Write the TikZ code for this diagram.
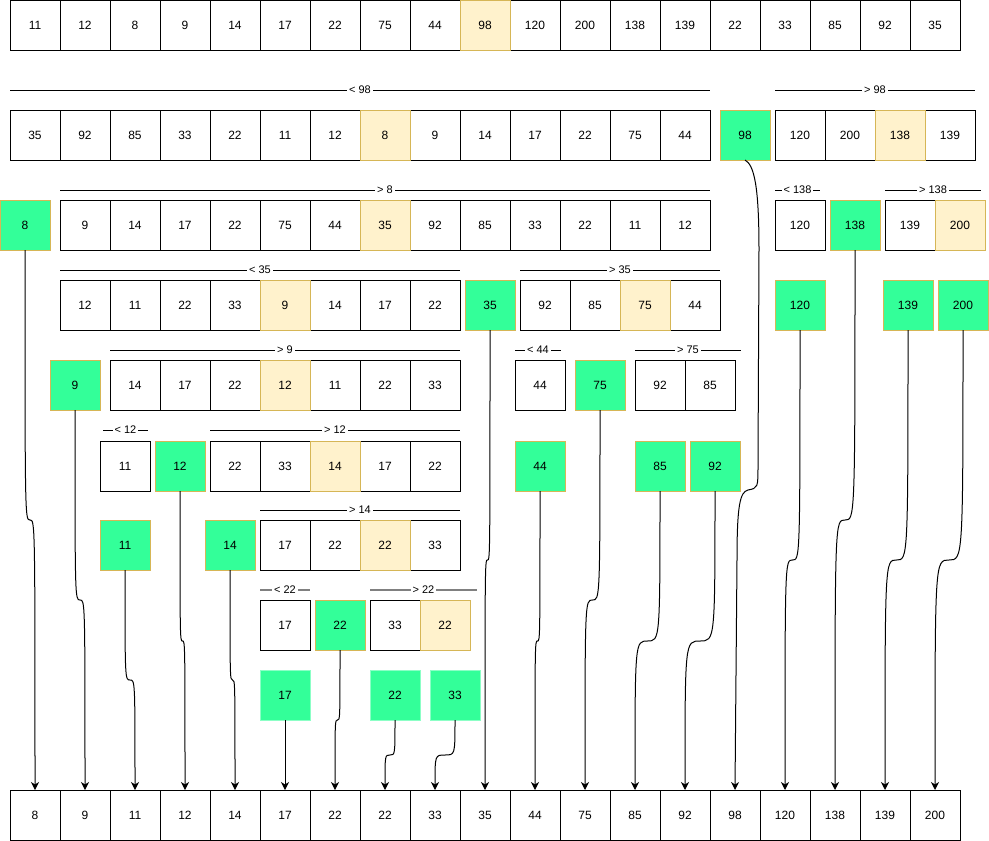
\documentclass[tikz,border=0pt]{standalone}
\usepackage{fontspec}
\setmainfont{Liberation Sans}
\usetikzlibrary{arrows.meta}
\definecolor{gfill}{HTML}{33FF99}
\definecolor{yfill}{HTML}{FFF2CC}
\definecolor{ybord}{HTML}{D6B656}
\definecolor{lgbord}{HTML}{8CFFC6}
\newcommand\sortedge[5]{%
  \pgfmathsetmacro\jx{(#3+#4)/2}%
  \draw[edge] (#1.south) .. controls (#3,#5) .. (\jx,#5) .. controls (#4,#5) .. (#2.north);}
\begin{document}
\begin{tikzpicture}[x=1pt,y=-1pt,
  cell/.style={draw=black,line width=1pt,minimum size=50pt,inner sep=0pt,outer sep=0pt,font=\fontsize{12}{14}\selectfont},
  piv/.style={cell,draw=ybord,fill=yfill},
  done/.style={cell,draw=ybord,fill=gfill},
  leaf/.style={cell,draw=lgbord,fill=gfill},
  rng/.style={line width=1pt},
  rnggray/.style={line width=1.6pt,draw=gray},
  lbl/.style={fill=white,inner sep=2pt,font=\fontsize{11}{13}\selectfont},
  edge/.style={line width=1pt,-{Stealth[length=8pt,width=8pt,inset=2.5pt]}}]
\useasboundingbox (0,0) rectangle (989,841);
\fill[white] (0,0) rectangle (989,841);

% row 0
\foreach \v/\s [count=\i from 0] in {11/cell,12/cell,8/cell,9/cell,14/cell,17/cell,22/cell,75/cell,44/cell,120/cell,200/cell,138/cell,139/cell,22/cell,33/cell,85/cell,92/cell,35/cell}
  {\ifnum\i<9 \node[\s] (t-\i) at ({35+50*\i},25) {\v};\else \node[\s] (t-\i) at ({35+50*(\i+1)},25) {\v};\fi}
\node[piv] (t-p) at (485,25) {98};

% row 1
\draw[rng] (10,90) -- node[lbl]{< 98} (710,90);
\draw[rng] (775,90) -- node[lbl]{> 98} (975,90);
\foreach \v/\s [count=\i from 0] in {35/cell,92/cell,85/cell,33/cell,22/cell,11/cell,12/cell,8/piv,9/cell,14/cell,17/cell,22/cell,75/cell,44/cell}
  \node[\s] (a-\i) at ({35+50*\i},135) {\v};
\node[piv] (a-7) at (385,135) {8};
\node[done] (g98) at (745,135) {98};
\foreach \v/\s [count=\i from 0] in {120/cell,200/cell,138/piv,139/cell}
  \node[\s] (ar-\i) at ({800+50*\i},135) {\v};
\node[piv] (ar-2) at (900,135) {138};

% row 2
\draw[rng] (60,190) -- node[lbl]{> 8} (710,190);
\draw[rng] (775,190) -- node[lbl]{< 138} (820,190);
\draw[rng] (885,190) -- node[lbl]{> 138} (981,190);
\node[done] (g8) at (25,225) {8};
\foreach \v/\s [count=\i from 0] in {9/cell,14/cell,17/cell,22/cell,75/cell,44/cell,35/piv,92/cell,85/cell,33/cell,22/cell,11/cell,12/cell}
  \node[\s] (c-\i) at ({85+50*\i},225) {\v};
\node[piv] (c-6) at (385,225) {35};
\node[cell] (c2-0) at (800,225) {120};
\node[done] (g138) at (855,225) {138};
\node[cell] (c2-1) at (910,225) {139};
\node[piv] (c2-2) at (960,225) {200};

% row 3
\draw[rng] (60,270) -- node[lbl]{< 35} (460,270);
\draw[rng] (520,270) -- node[lbl]{> 35} (720,270);
\foreach \v/\s [count=\i from 0] in {12/cell,11/cell,22/cell,33/cell,9/piv,14/cell,17/cell,22/cell}
  \node[\s] (d-\i) at ({85+50*\i},305) {\v};
\node[piv] (d-4) at (285,305) {9};
\node[done] (g35) at (490,305) {35};
\foreach \v/\s [count=\i from 0] in {92/cell,85/cell,75/piv,44/cell}
  \node[\s] (d2-\i) at ({545+50*\i},305) {\v};
\node[piv] (d2-2) at (645,305) {75};
\node[done] (g120) at (800,305) {120};
\node[done] (g139) at (908,305) {139};
\node[done] (g200) at (963,305) {200};

% row 4
\draw[rng] (110,350) -- node[lbl]{> 9} (460,350);
\draw[rng] (515,350) -- node[lbl]{< 44} (561,350);
\draw[rng] (635,350) -- node[lbl]{> 75} (741,350);
\node[done] (g9) at (75,385) {9};
\foreach \v/\s [count=\i from 0] in {14/cell,17/cell,22/cell,12/piv,11/cell,22/cell,33/cell}
  \node[\s] (e-\i) at ({135+50*\i},385) {\v};
\node[piv] (e-3) at (285,385) {12};
\node[cell] (e2-0) at (540,385) {44};
\node[done] (g75) at (600,385) {75};
\node[cell] (e2-1) at (660,385) {92};
\node[cell] (e2-2) at (710,385) {85};

% row 5
\draw[rng] (103,430) -- node[lbl]{< 12} (148,430);
\draw[rng] (210,430) -- node[lbl]{> 12} (460,430);
\node[cell] (f-0) at (125,466) {11};
\node[done] (g12) at (180,466) {12};
\foreach \v/\s [count=\i from 1] in {22/cell,33/cell,14/piv,17/cell,22/cell}
  \node[\s] (f-\i) at ({185+50*\i},466) {\v};
\node[piv] (f-3) at (335,466) {14};
\node[done] (g44) at (540,466) {44};
\node[done] (g85) at (660,466) {85};
\node[done] (g92) at (715,466) {92};

% row 6
\draw[rng] (260,510) -- node[lbl]{> 14} (460,510);
\node[done] (g11) at (125,545) {11};
\node[done] (g14) at (230,545) {14};
\foreach \v/\s [count=\i from 0] in {17/cell,22/cell,22/piv,33/cell}
  \node[\s] (h-\i) at ({285+50*\i},545) {\v};
\node[piv] (h-2) at (385,545) {22};

% row 7
\draw[rnggray] (260,590) -- node[lbl]{< 22} (310,590);
\draw[rnggray] (370,590) -- node[lbl]{> 22} (477,590);
\node[cell] (k-0) at (285,625) {17};
\node[done] (g22a) at (340,625) {22};
\node[cell] (k-1) at (395,625) {33};
\node[piv] (k-2) at (445,625) {22};

% row 8
\node[leaf] (l17) at (285,695) {17};
\node[leaf] (l22) at (395,695) {22};
\node[leaf] (l33) at (455,695) {33};

% bottom
\foreach \v [count=\i from 0] in {8,9,11,12,14,17,22,22,33,35,44,75,85,92,98,120,138,139,200}
  \node[cell] (b-\i) at ({35+50*\i},815) {\v};

% edges
\sortedge{g8}{b-0}{25}{35}{520}
\sortedge{g9}{b-1}{75}{85}{600}
\sortedge{g11}{b-2}{125}{135}{680}
\sortedge{g12}{b-3}{180}{185}{641}
\sortedge{g14}{b-4}{230}{235}{680}
\draw[edge] (l17.south) -- (b-5.north);
\sortedge{g22a}{b-6}{340}{335}{720}
\sortedge{l22}{b-7}{395}{385}{755}
\sortedge{l33}{b-8}{455}{435}{755}
\sortedge{g35}{b-9}{490}{485}{560}
\sortedge{g44}{b-10}{540}{535}{641}
\sortedge{g75}{b-11}{600}{585}{600}
\sortedge{g85}{b-12}{660}{635}{641}
\sortedge{g92}{b-13}{715}{685}{641}
\draw[edge] (g98.south) .. controls (754,165) and (759,185) .. (759,250) -- (758,465) .. controls (758,488) .. (748,490) .. controls (740,492) and (737,505) .. (737,560) -- (b-14.north);
\sortedge{g120}{b-15}{800}{785}{560}
\sortedge{g138}{b-16}{855}{835}{520}
\sortedge{g139}{b-17}{908}{885}{560}
\sortedge{g200}{b-18}{963}{935}{560}
\end{tikzpicture}
\end{document}
